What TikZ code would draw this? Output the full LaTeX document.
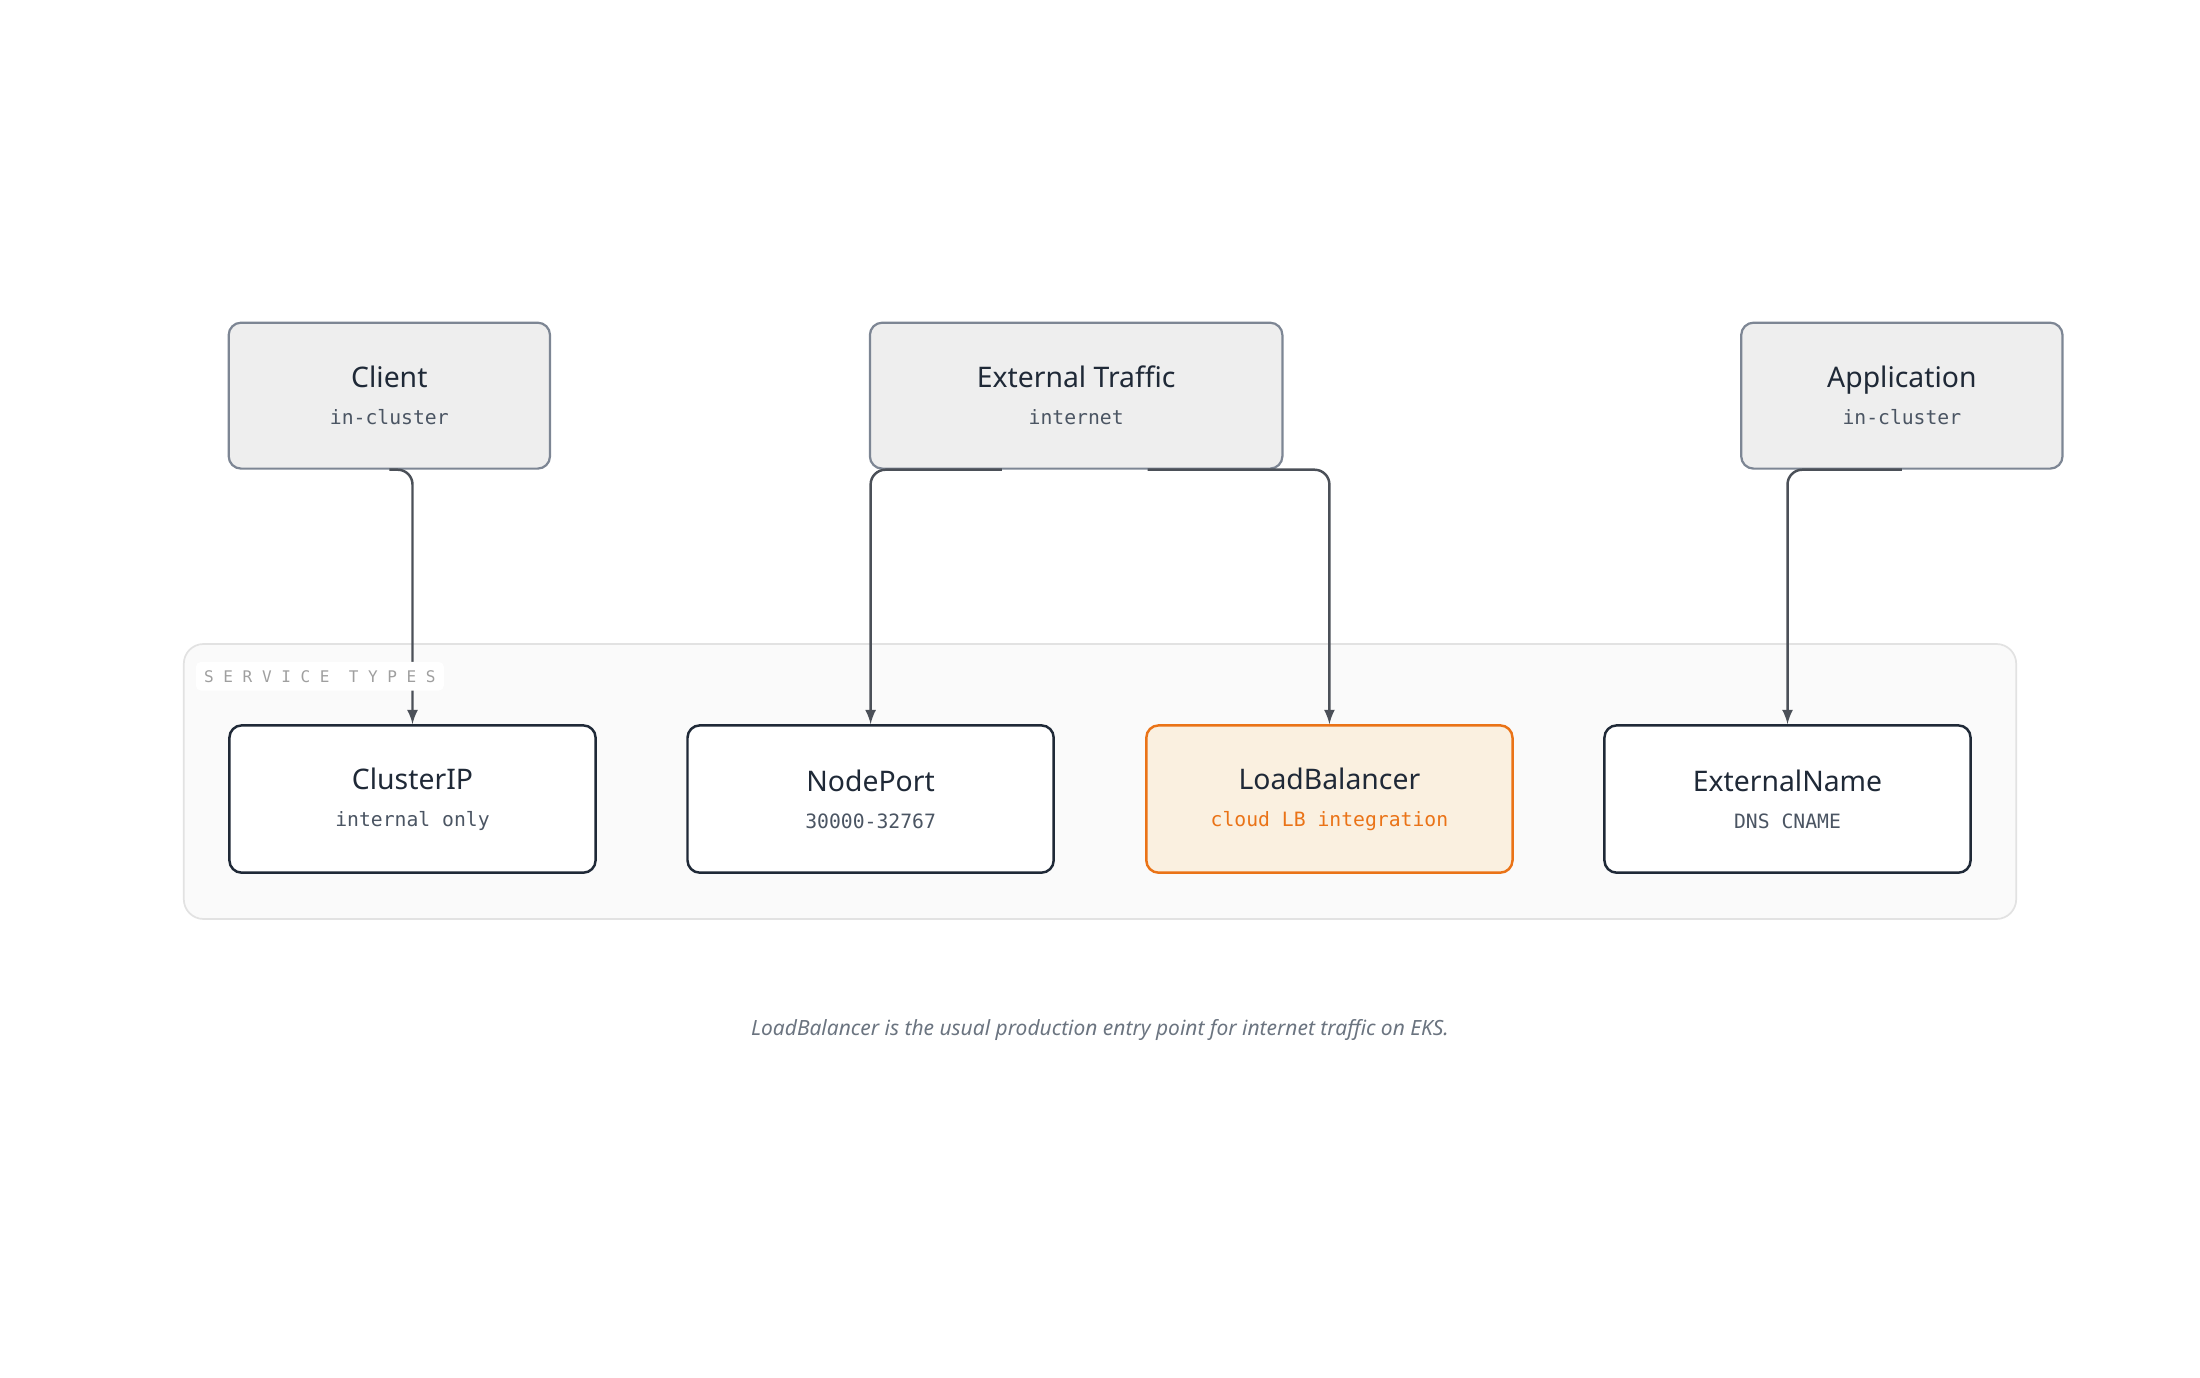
\documentclass[tikz,border=0pt]{standalone}
\usepackage{fontspec}
\setmainfont{Noto Sans}
\setmonofont{DejaVu Sans Mono}
\usetikzlibrary{positioning}
\definecolor{ink}{HTML}{1F2937}
\definecolor{subgray}{HTML}{4B5563}
\definecolor{edgegray}{HTML}{6B7280}
\definecolor{wire}{HTML}{4B5058}
\definecolor{srcfill}{HTML}{EEEEEE}
\definecolor{srcline}{HTML}{7D8694}
\definecolor{lborange}{HTML}{EA7317}
\definecolor{lbfill}{HTML}{FAF0E0}
\definecolor{groupfill}{HTML}{FAFAFA}
\definecolor{groupline}{HTML}{E2E2E2}
\definecolor{capgray}{HTML}{6B7480}
\begin{document}
\begin{tikzpicture}[x=0.02cm,y=-0.02cm]
\tikzset{
  source/.style={draw=srcline, fill=srcfill, rounded corners=5pt, line width=0.9pt,
    minimum width=229*0.02cm, minimum height=104*0.02cm, align=center},
  svc/.style={draw=ink, fill=white, rounded corners=5pt, line width=1pt,
    minimum width=261*0.02cm, minimum height=105*0.02cm, align=center},
  flow/.style={draw=wire, line width=1pt, rounded corners=6pt, -latex},
}
\newcommand{\boxtext}[2]{{\fontsize{11.5}{13}\selectfont\bfseries #1}\\[3pt]{\ttfamily\fontsize{8}{10}\selectfont #2}}
\useasboundingbox (0,0) rectangle (1568,982);

% Group container
\draw[groupline, fill=groupfill, rounded corners=8pt, line width=0.7pt] (131,459) rectangle (1437,655);

% Sources
\node[source] (client) at (277.5,282) {\color{ink}\boxtext{Client}{\color{subgray}in-cluster}};
\node[source, minimum width=294*0.02cm] (ext) at (767,282) {\color{ink}\boxtext{External Traffic}{\color{subgray}internet}};
\node[source] (app) at (1355.5,282) {\color{ink}\boxtext{Application}{\color{subgray}in-cluster}};

% Service types
\node[svc] (cip) at (294,569.5) {\color{ink}\boxtext{ClusterIP}{\color{subgray}internal only}};
\node[svc] (np) at (620.5,569.5) {\color{ink}\boxtext{NodePort}{\color{subgray}30000-32767}};
\node[svc, draw=lborange, fill=lbfill] (lb) at (947.5,569.5) {\color{ink}\boxtext{LoadBalancer}{\color{lborange}cloud LB integration}};
\node[svc] (en) at (1274,569.5) {\color{ink}\boxtext{ExternalName}{\color{subgray}DNS CNAME}};

% Connectors
\draw[flow] (client.south) -| (cip.north);
\draw[flow] ([xshift=-53*0.02cm]ext.south) -| (np.north);
\draw[flow] ([xshift=51*0.02cm]ext.south) -| (lb.north);
\draw[flow] (app.south) -| (en.north);

% Group label
\node[fill=white, rounded corners=2pt, minimum width=154*0.02cm, minimum height=20*0.02cm,
  text=gray!75, font=\ttfamily\fontsize{6.5}{8}\selectfont] (grouplbl) at (228,482) {S E R V I C E\ \ T Y P E S};

% Caption
\node[text=capgray, font=\itshape\fontsize{8.5}{10}\selectfont] (caption) at (784,734)
  {LoadBalancer is the usual production entry point for internet traffic on EKS.};
\end{tikzpicture}
\end{document}
